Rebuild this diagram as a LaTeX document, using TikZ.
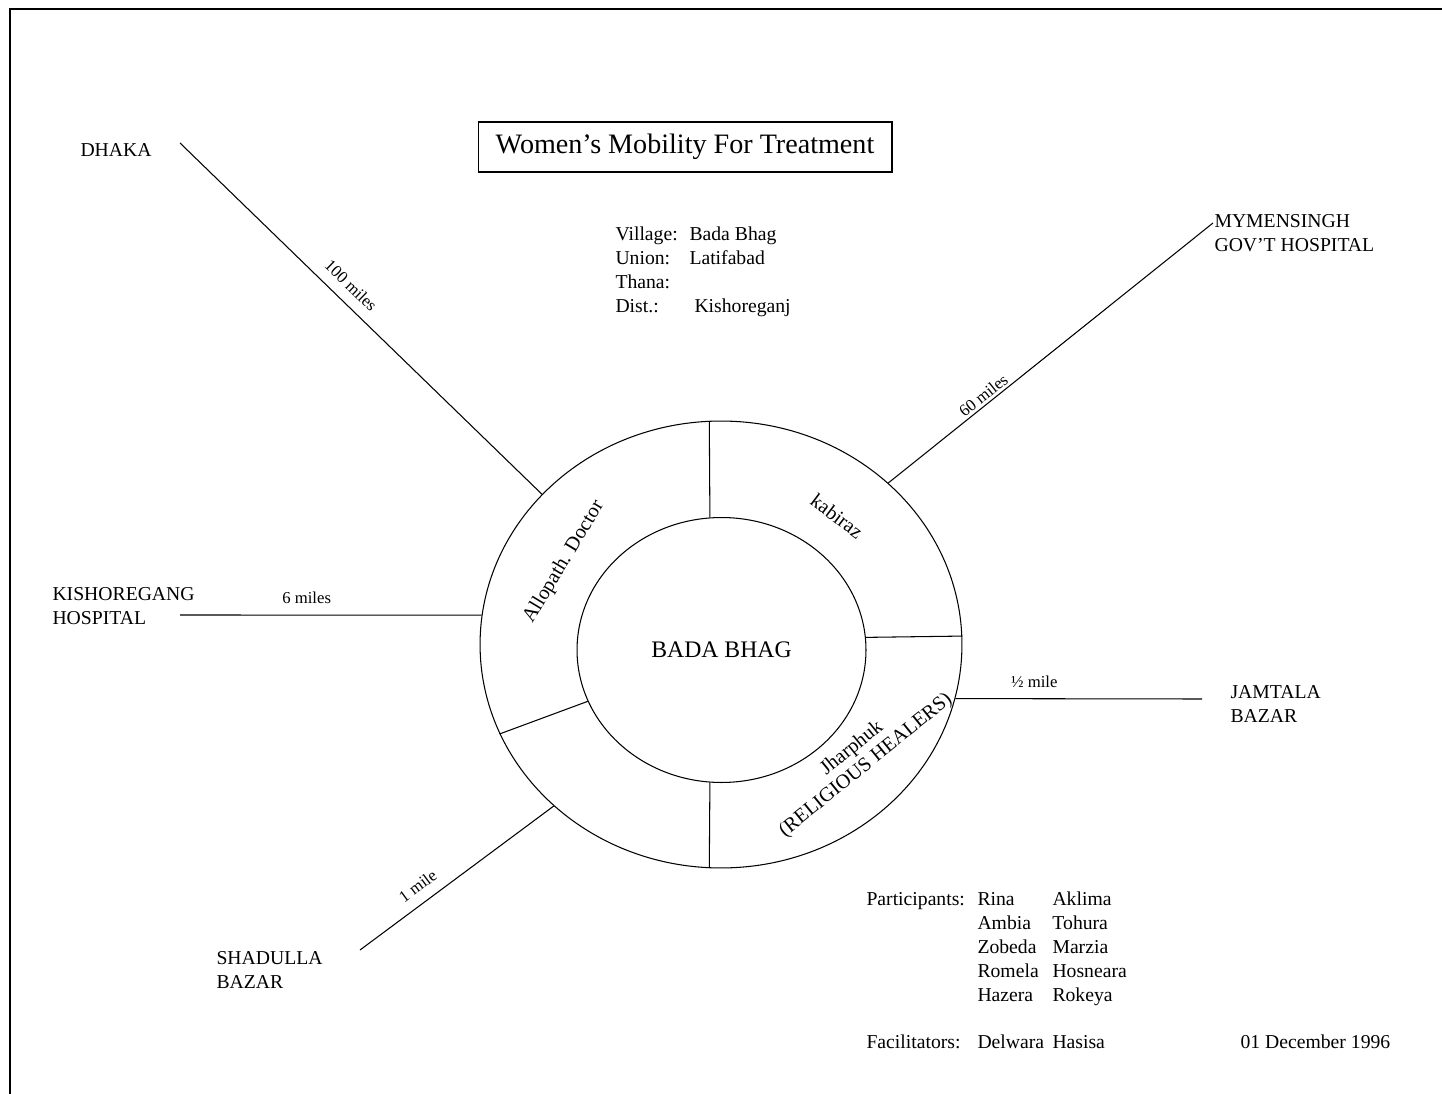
\documentclass[tikz,border=0pt]{standalone}
\usepackage{fontspec}
\setmainfont{Liberation Serif}
\usetikzlibrary{shapes.geometric}

\begin{document}
\begin{tikzpicture}[x=0.02cm,y=-0.02cm,line width=0.6pt,
  place/.style={font=\fontsize{11.2}{13.7}\selectfont, inner sep=0pt, align=left, anchor=west},
  dist/.style={font=\fontsize{9.5}{11}\selectfont, sloped, above, inner sep=6pt},
  ringtext/.style={font=\fontsize{11.5}{12.5}\selectfont, inner sep=0pt, align=center}]

\useasboundingbox (0,0) rectangle (1442,1094);

% Page frame (only top and left edges show)
\draw[line width=1.2pt] (10,1094) -- (10,9) -- (1442,9);

% Title
\node[draw, minimum width=8.28cm, minimum height=1cm, inner sep=0pt,
  font=\fontsize{16}{19}\selectfont] (title) at (685,147) {Women's Mobility For Treatment};

% Village details
\node[place, anchor=north west] (village) at (615,226)
  {\makebox[1.48cm][l]{Village:}Bada Bhag\\
   \makebox[1.48cm][l]{Union:}Latifabad\\
   Thana:\\
   \makebox[1.58cm][l]{Dist.:}Kishoreganj};

% Village ring
\node[ellipse, draw, minimum width=9.64cm, minimum height=8.94cm, inner sep=0pt] (ring) at (721,644.5) {};
\node[ellipse, draw, minimum width=5.78cm, minimum height=5.3cm, inner sep=0pt,
  font=\fontsize{13.5}{16}\selectfont] (hub) at (721.5,650) {BADA BHAG};

% Ring sections
\draw (ring.93) -- (hub.95);
\draw (ring.2) -- (hub.5);
\draw (ring.267) -- (hub.265);
\draw (ring.202) -- (hub.201);

\node[ringtext, rotate=59] (allopath) at (564,562) {Allopath. Doctor};
\node[ringtext, rotate=-37] (kabiraz) at (837,516) {kabiraz};
\node[ringtext, rotate=39] (jharphuk) at (859,757) {Jharphuk\\(RELIGIOUS HEALERS)};

% Places
\node[place] (dhaka) at (80,150) {DHAKA};
\node[place] (mymen) at (1214,233.5) {MYMENSINGH\\GOV'T HOSPITAL};
\node[place] (kishore) at (52,606.5) {KISHOREGANG\\HOSPITAL};
\node[place] (jamtala) at (1230,704) {JAMTALA\\BAZAR};
\node[place] (shadulla) at (216,970) {SHADULLA\\BAZAR};

\coordinate (dhakaend) at (180,143);
\coordinate (mymenend) at (1213,223);
\coordinate (kishend) at (180,615);
\coordinate (jamend) at (1202,699);
\coordinate (shadend) at (360,950);

% Roads with distances
\draw (dhakaend) -- node[dist, pos=0.44] {100 miles} (ring.140);
\draw (mymenend) -- node[dist, pos=0.69, inner sep=1.5pt] {60 miles} (ring.44);
\draw (kishend) -- node[dist, pos=0.42] {6 miles} (ring.173);
\draw (ring.347) -- node[dist, pos=0.32] {½ mile} (jamend);
\draw (shadend) -- node[dist, pos=0.35] {1 mile} (ring.224);

% Participants
\node[place, anchor=north west] (people) at (866,891)
  {\makebox[2.22cm][l]{Participants:}\makebox[1.5cm][l]{Rina}Aklima\\
   \hspace*{2.22cm}\makebox[1.5cm][l]{Ambia}Tohura\\
   \hspace*{2.22cm}\makebox[1.5cm][l]{Zobeda}Marzia\\
   \hspace*{2.22cm}\makebox[1.5cm][l]{Romela}Hosneara\\
   \hspace*{2.22cm}\makebox[1.5cm][l]{Hazera}Rokeya};
\node[place] (facil) at (866,1042)
  {\makebox[2.22cm][l]{Facilitators:}\makebox[1.5cm][l]{Delwara}Hasisa};
\node[place] (date) at (1240,1042) {01 December 1996};

\end{tikzpicture}
\end{document}
